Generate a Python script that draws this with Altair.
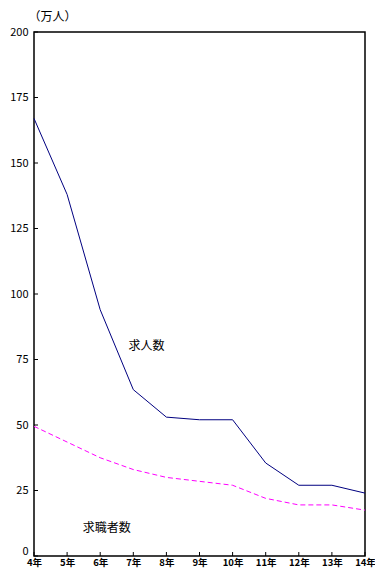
import altair as alt
import pandas as pd

years = [4, 5, 6, 7, 8, 9, 10, 11, 12, 13, 14]
kyujin = [167, 138, 94, 63.5, 53, 52, 52, 35.5, 27, 27, 24]
kyushoku = [49.5, 43.5, 37.5, 33, 30, 28.5, 27, 22, 19.5, 19.5, 17.5]
y_ticks = [0, 25, 50, 75, 100, 125, 150, 175, 200]
x_ticks = [4, 5, 6, 7, 8, 9, 10, 11, 12, 13, 14]

label_names = ["求人数", "求職者数"]
label_x = [7.4, 6.2]
label_y = [80, 10.7]

W, H = 331, 524
JP = "Noto Sans CJK JP"

df = pd.DataFrame({"year": years, "kyujin": kyujin, "kyushoku": kyushoku})

xscale = alt.Scale(domain=[4, 14], nice=False, zero=False)
yscale = alt.Scale(domain=[0, 200], nice=False)

xaxis = alt.Axis(values=x_ticks, labelExpr="datum.value + '年'", title=None,
                 ticks=False, domain=False, grid=False, labelFontSize=9.5,
                 labelFontWeight="bold", labelPadding=1, labelFont=JP,
                 labelColor="black", labelFlush=False, labelOverlap=False,
                 labelBound=False)
yaxis = alt.Axis(values=y_ticks, title="（万人）", titleAngle=0, titleX=-6, titleY=-16,
                 titleAlign="left", titleBaseline="middle", titleFont=JP,
                 titleFontSize=12, titleFontWeight="normal", titleColor="black",
                 ticks=False, domain=False, grid=False, labelFontSize=11,
                 labelPadding=6, labelFont=JP, labelColor="black",
                 labelOverlap=False, labelFlush=False,
                 labelBaseline={"condition": {"test": "datum.value == 0", "value": "bottom"},
                                "value": "middle"})

base = alt.Chart(df)
l1 = base.mark_line(color="#000080", strokeWidth=1).encode(
    x=alt.X("year:Q", scale=xscale, axis=xaxis),
    y=alt.Y("kyujin:Q", scale=yscale, axis=yaxis),
)
l2 = base.mark_line(color="#FF00FF", strokeWidth=1, strokeDash=[5, 3]).encode(
    x=alt.X("year:Q", scale=xscale, axis=xaxis),
    y=alt.Y("kyushoku:Q", scale=yscale, axis=yaxis),
)

ydf = pd.DataFrame({"v": y_ticks})
ytk = alt.Chart(ydf).mark_rule(color="black", strokeWidth=1).encode(
    y=alt.Y("v:Q", scale=yscale, axis=yaxis), x=alt.value(0), x2=alt.value(4)
)
xdf = pd.DataFrame({"v": x_ticks})
xtk = alt.Chart(xdf).mark_rule(color="black", strokeWidth=1).encode(
    x=alt.X("v:Q", scale=xscale, axis=xaxis), y=alt.value(H), y2=alt.value(H - 4)
)

ldf = pd.DataFrame({"name": label_names, "x": label_x, "y": label_y})
txt = alt.Chart(ldf).mark_text(font=JP, fontSize=12, color="black").encode(
    x=alt.X("x:Q", scale=xscale, axis=xaxis), y=alt.Y("y:Q", scale=yscale, axis=yaxis),
    text="name:N"
)

chart = alt.layer(l1, l2, ytk, xtk, txt).properties(
    width=W, height=H,
    autosize=alt.AutoSizeParams(type="none"),
    padding={"left": 26, "top": 24, "right": 10, "bottom": 14},
).configure(background="white").configure_view(
    stroke="black", strokeWidth=1.5
).configure_axis(labelOverlap=False)

chart.save("out.html", embed_options={"renderer": "svg", "actions": False})
